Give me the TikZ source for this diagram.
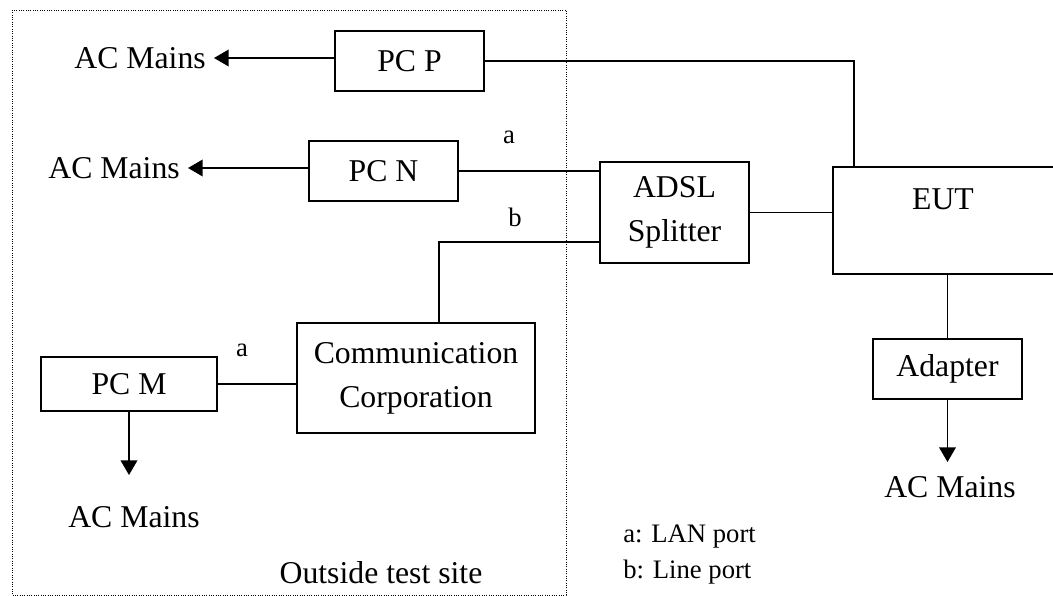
\documentclass[tikz,border=0pt]{standalone}
\usepackage{fontspec}
\setmainfont{Liberation Serif}
\usetikzlibrary{arrows.meta,calc}

\begin{document}
\begin{tikzpicture}[x=0.75pt,y=0.75pt,yscale=-1,xscale=1,
  big/.style={font=\fontsize{23.8}{33}\selectfont},
  small/.style={font=\fontsize{20}{24}\selectfont},
  unit/.style={draw, line width=1.3pt, inner sep=0pt, align=center, big},
  link/.style={line width=1.1pt},
  feed/.style={line width=1.1pt, -{Triangle[length=11pt,width=12.5pt]}}]
\path [use as bounding box] (0,0) rectangle (1053,596);
\clip (0,0) rectangle (1053,596);

%Shape: Rectangle [dotted frame]
\draw [densely dotted, line width=0.75pt] (12,10) rectangle (566,595);

%Shape: Rectangle
\node [unit, minimum width=111.75pt, minimum height=45pt] (pcp) at (409.5,61) {PC P};
%Shape: Rectangle
\node [unit, minimum width=111.75pt, minimum height=45pt] (pcn) at (383.5,171) {PC N};
%Shape: Rectangle
\node [unit, minimum width=111.75pt, minimum height=75.75pt, text depth=6pt] (adsl) at (674.5,212.5) {ADSL\\Splitter};
%Shape: Rectangle
\node [unit, minimum width=177.75pt, minimum height=80.25pt] (eut) at (951.5,220.5) {};
%Shape: Rectangle
\node [unit, minimum width=111.75pt, minimum height=45pt] (adapter) at (947.5,369) {Adapter};
%Shape: Rectangle
\node [unit, minimum width=178.5pt, minimum height=82.5pt] (comm) at (416,378) {Communication\\Corporation};
%Shape: Rectangle
\node [unit, minimum width=132pt, minimum height=40.5pt] (pcm) at (129,384) {PC M};

% Text Node
\node [big] (euttext) at (943,199) {EUT};
% Text Node
\node [big, anchor=east, inner xsep=6pt, inner ysep=0pt] (acp) at (214,58) {AC Mains};
% Text Node
\node [big, anchor=east, inner xsep=6pt, inner ysep=0pt] (acn) at (188,168) {AC Mains};
% Text Node
\node [big] (acm) at (134,517) {AC Mains};
% Text Node
\node [big] (aca) at (950,487) {AC Mains};
\coordinate (tipm) at (129,475);
\coordinate (tipa) at (947.5,462);

%Straight Lines
\draw [feed] (pcp.west |- acp.east) -- (acp.east);
\draw [feed] (pcn.west |- acn.east) -- (acn.east);
\draw [feed] (pcm.south) -- (tipm);
\draw [feed] (adapter.south) -- (tipa);

%Straight Lines
\draw [link] (pcp.east) -| ($(eut.north west)+(22,0)$);
\draw [link] (pcn.east) -- (pcn.east -| adsl.west);
\draw [link] ($(adsl.west)+(0,29.5)$) -| ($(comm.north)+(23,0)$);
\draw [link] (pcm.east) -- (pcm.east -| comm.west);
\draw [link] (adsl.east) -- (adsl.east -| eut.west);
\draw [link] (adapter.north) -- (adapter.north |- eut.south);

% Text Node
\node [small] (porta) at (509,137) {a};
% Text Node
\node [small] (portb) at (515,217) {b};
% Text Node
\node [small] (portam) at (242,350) {a};
% Text Node
\node [big] (site) at (381,573) {Outside test site};
% Text Node
\node [small, anchor=west, inner sep=0pt] (lega) at (623,537) {a: LAN port};
% Text Node
\node [small, anchor=west, inner sep=0pt] (legb) at (623,572) {b: Line port};

\end{tikzpicture}
\end{document}
